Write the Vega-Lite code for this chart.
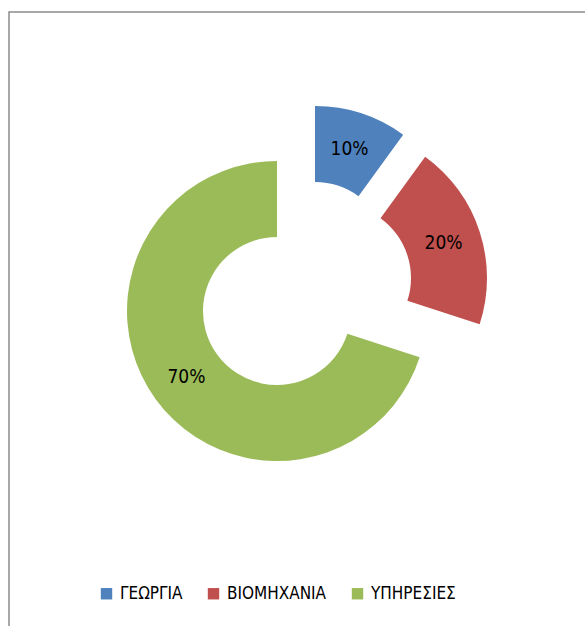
{
  "$schema": "https://vega.github.io/schema/vega-lite/v6.json",
  "width": 585,
  "height": 626,
  "autosize": {"type": "fit", "contains": "padding"},
  "padding": {"left": 8, "top": 11, "right": -6, "bottom": -6},
  "background": "white",
  "data": {"values": [
    {"sector": "ΓΕΩΡΓΙΑ", "value": 10, "label": "10%"},
    {"sector": "ΒΙΟΜΗΧΑΝΙΑ", "value": 20, "label": "20%"},
    {"sector": "ΥΠΗΡΕΣΙΕΣ", "value": 70, "label": "70%"}
  ]},
  "layer": [
    {
      "data": {"values": [{}]},
      "mark": {"type": "rect", "filled": false, "stroke": "#8C8C8C", "strokeWidth": 1.5},
      "encoding": {}
    },
    {
      "mark": {"type": "arc", "innerRadius": 74, "outerRadius": 150, "x": 306, "y": 244},
      "encoding": {
        "theta": {"field": "value", "type": "quantitative", "stack": true},
        "order": {"field": "value", "type": "quantitative"},
        "color": {"field": "sector", "type": "nominal", "sort": null,
          "scale": {"domain": ["ΓΕΩΡΓΙΑ", "ΒΙΟΜΗΧΑΝΙΑ", "ΥΠΗΡΕΣΙΕΣ"], "range": ["#4F81BD", "#C0504D", "#9BBB59"]},
          "legend": {"title": null}},
        "fillOpacity": {"condition": {"test": "datum.sector === 'ΓΕΩΡΓΙΑ'", "value": 1}, "value": 0}
      }
    },
    {
      "mark": {"type": "arc", "innerRadius": 74, "outerRadius": 150, "x": 328, "y": 266},
      "encoding": {
        "theta": {"field": "value", "type": "quantitative", "stack": true},
        "order": {"field": "value", "type": "quantitative"},
        "color": {"field": "sector", "type": "nominal", "sort": null},
        "fillOpacity": {"condition": {"test": "datum.sector === 'ΒΙΟΜΗΧΑΝΙΑ'", "value": 1}, "value": 0}
      }
    },
    {
      "mark": {"type": "arc", "innerRadius": 74, "outerRadius": 150, "x": 268, "y": 299},
      "encoding": {
        "theta": {"field": "value", "type": "quantitative", "stack": true},
        "order": {"field": "value", "type": "quantitative"},
        "color": {"field": "sector", "type": "nominal", "sort": null},
        "fillOpacity": {"condition": {"test": "datum.sector === 'ΥΠΗΡΕΣΙΕΣ'", "value": 1}, "value": 0}
      }
    },
    {
      "mark": {"type": "text", "radius": 112, "x": 306, "y": 244, "font": "DejaVu Sans Condensed, DejaVu Sans, sans-serif", "fontSize": 19, "color": "#000000"},
      "encoding": {
        "theta": {"field": "value", "type": "quantitative", "stack": true},
        "order": {"field": "value", "type": "quantitative"},
        "text": {"condition": {"test": "datum.sector === 'ΓΕΩΡΓΙΑ'", "field": "label"}, "value": ""}
      }
    },
    {
      "mark": {"type": "text", "radius": 112, "x": 328, "y": 266, "font": "DejaVu Sans Condensed, DejaVu Sans, sans-serif", "fontSize": 19, "color": "#000000"},
      "encoding": {
        "theta": {"field": "value", "type": "quantitative", "stack": true},
        "order": {"field": "value", "type": "quantitative"},
        "text": {"condition": {"test": "datum.sector === 'ΒΙΟΜΗΧΑΝΙΑ'", "field": "label"}, "value": ""}
      }
    },
    {
      "mark": {"type": "text", "radius": 112, "x": 268, "y": 299, "font": "DejaVu Sans Condensed, DejaVu Sans, sans-serif", "fontSize": 19, "color": "#000000"},
      "encoding": {
        "theta": {"field": "value", "type": "quantitative", "stack": true},
        "order": {"field": "value", "type": "quantitative"},
        "text": {"condition": {"test": "datum.sector === 'ΥΠΗΡΕΣΙΕΣ'", "field": "label"}, "value": ""}
      }
    }
  ],
  "config": {
    "view": {"stroke": null},
    "legend": {
      "orient": "none", "legendX": 89, "legendY": 573, "direction": "horizontal",
      "symbolType": "square", "symbolSize": 130, "symbolStrokeWidth": 0,
      "labelFont": "DejaVu Sans Condensed, DejaVu Sans, sans-serif",
      "labelFontSize": 17, "labelColor": "#000000", "labelOffset": 5,
      "columnPadding": 22
    }
  }
}
